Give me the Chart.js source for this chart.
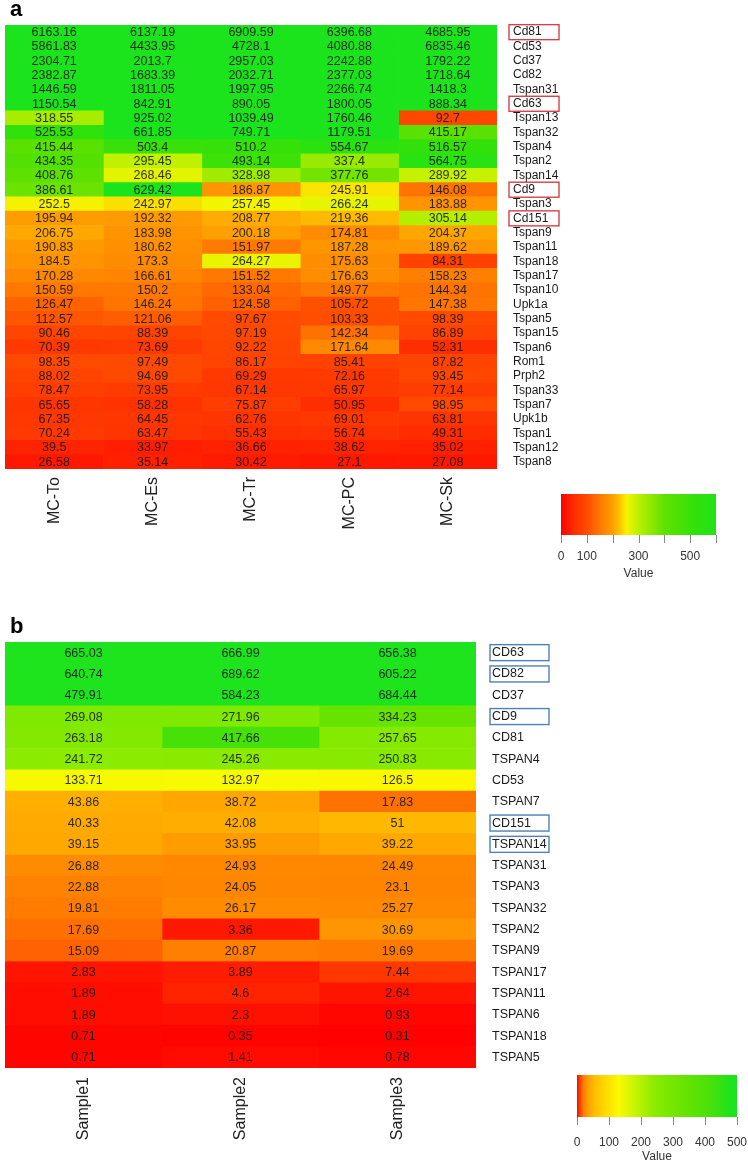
<!DOCTYPE html>
<html>
<head>
<meta charset="utf-8">
<script src="https://cdn.jsdelivr.net/npm/chart.js@4.4.1/dist/chart.umd.min.js"></script>
<style>
  body { margin: 0; background: #fff; }
  canvas { position: absolute; left: 0; }
  #heatA { top: 0; }
  #heatB { top: 600px; }
</style>
</head>
<body>
<canvas id="heatA" width="748" height="600"></canvas>
<canvas id="heatB" width="748" height="564"></canvas>
<script>
// ---- panel a ----
const genesA = ['Cd81', 'Cd53', 'Cd37', 'Cd82', 'Tspan31', 'Cd63', 'Tspan13', 'Tspan32', 'Tspan4', 'Tspan2',
  'Tspan14', 'Cd9', 'Tspan3', 'Cd151', 'Tspan9', 'Tspan11', 'Tspan18', 'Tspan17', 'Tspan10', 'Upk1a',
  'Tspan5', 'Tspan15', 'Tspan6', 'Rom1', 'Prph2', 'Tspan33', 'Tspan7', 'Upk1b', 'Tspan1', 'Tspan12', 'Tspan8'];
const samplesA = ['MC-To', 'MC-Es', 'MC-Tr', 'MC-PC', 'MC-Sk'];
const mcTo = [6163.16, 5861.83, 2304.71, 2382.87, 1446.59, 1150.54, 318.55, 525.53, 415.44, 434.35, 408.76, 386.61,
  252.5, 195.94, 206.75, 190.83, 184.5, 170.28, 150.59, 126.47, 112.57, 90.46, 70.39, 98.35, 88.02, 78.47, 65.65,
  67.35, 70.24, 39.5, 26.58];
const mcEs = [6137.19, 4433.95, 2013.7, 1683.39, 1811.05, 842.91, 925.02, 661.85, 503.4, 295.45, 268.46, 629.42,
  242.97, 192.32, 183.98, 180.62, 173.3, 166.61, 150.2, 146.24, 121.06, 88.39, 73.69, 97.49, 94.69, 73.95, 58.28,
  64.45, 63.47, 33.97, 35.14];
const mcTr = [6909.59, 4728.1, 2957.03, 2032.71, 1997.95, 890.05, 1039.49, 749.71, 510.2, 493.14, 328.98, 186.87,
  257.45, 208.77, 200.18, 151.97, 264.27, 151.52, 133.04, 124.58, 97.67, 97.19, 92.22, 86.17, 69.29, 67.14, 75.87,
  62.76, 55.43, 36.66, 30.42];
const mcPC = [6396.68, 4080.88, 2242.88, 2377.03, 2266.74, 1800.05, 1760.46, 1179.51, 554.67, 337.4, 377.76, 245.91,
  266.24, 219.36, 174.81, 187.28, 175.63, 176.63, 149.77, 105.72, 103.33, 142.34, 171.64, 85.41, 72.16, 65.97, 50.95,
  69.01, 56.74, 38.62, 27.1];
const mcSk = [4685.95, 6835.46, 1792.22, 1718.64, 1418.3, 888.34, 92.7, 415.17, 516.57, 564.75, 289.92, 146.08,
  183.88, 305.14, 204.37, 189.62, 84.31, 158.23, 144.34, 147.38, 98.39, 86.89, 52.31, 87.82, 93.45, 77.14, 98.95,
  63.81, 49.31, 35.02, 27.08];
const boxedA = ['Cd81', 'Cd63', 'Cd9', 'Cd151'];
const legendTicksA = [0, 100, 200, 300, 400, 500, 600];
const legendLabelsA = [0, 100, 300, 500];

// ---- panel b ----
const genesB = ['CD63', 'CD82', 'CD37', 'CD9', 'CD81', 'TSPAN4', 'CD53', 'TSPAN7', 'CD151', 'TSPAN14',
  'TSPAN31', 'TSPAN3', 'TSPAN32', 'TSPAN2', 'TSPAN9', 'TSPAN17', 'TSPAN11', 'TSPAN6', 'TSPAN18', 'TSPAN5'];
const samplesB = ['Sample1', 'Sample2', 'Sample3'];
const sample1 = [665.03, 640.74, 479.91, 269.08, 263.18, 241.72, 133.71, 43.86, 40.33, 39.15, 26.88, 22.88, 19.81,
  17.69, 15.09, 2.83, 1.89, 1.89, 0.71, 0.71];
const sample2 = [666.99, 689.62, 584.23, 271.96, 417.66, 245.26, 132.97, 38.72, 42.08, 33.95, 24.93, 24.05, 26.17,
  3.36, 20.87, 3.89, 4.6, 2.3, 0.35, 1.41];
const sample3 = [656.38, 605.22, 684.44, 334.23, 257.65, 250.83, 126.5, 17.83, 51, 39.22, 24.49, 23.1, 25.27,
  30.69, 19.69, 7.44, 2.64, 0.93, 0.31, 0.78];
const boxedB = ['CD63', 'CD82', 'CD9', 'CD151', 'TSPAN14'];
const legendTicksB = [0, 100, 200, 300, 400, 500];
const legendLabelsB = [0, 100, 200, 300, 400, 500];

// colour ramps [value, [r,g,b]]
const rampA = [[0, [255, 0, 0]], [50, [255, 45, 0]], [100, [255, 75, 0]], [150, [255, 120, 0]], [200, [255, 160, 0]],
  [230, [255, 200, 0]], [255, [245, 245, 0]], [300, [185, 240, 0]], [400, [95, 225, 0]], [520, [50, 225, 10]],
  [620, [28, 228, 28]]];
const rampB = [[0, [255, 0, 0]], [8, [255, 60, 0]], [20, [255, 125, 0]], [40, [255, 170, 0]], [60, [255, 195, 0]],
  [130, [250, 250, 0]], [240, [140, 235, 0]], [340, [100, 228, 0]], [420, [70, 225, 10]], [480, [30, 228, 30]]];

function rampColor(v, ramp) {
  if (v <= ramp[0][0]) return 'rgb(' + ramp[0][1].join(',') + ')';
  for (let i = 1; i < ramp.length; i++) {
    if (v <= ramp[i][0]) {
      const [v0, c0] = ramp[i - 1], [v1, c1] = ramp[i];
      const t = (v - v0) / (v1 - v0);
      return 'rgb(' + c0.map((c, k) => Math.round(c + (c1[k] - c) * t)).join(',') + ')';
    }
  }
  return 'rgb(' + ramp[ramp.length - 1][1].join(',') + ')';
}

const heatExtras = {
  id: 'heatExtras',
  afterDatasetsDraw(chart, args, o) {
    const ctx = chart.ctx;
    const xs = chart.scales.x, ys = chart.scales.y, area = chart.chartArea;
    ctx.save();
    // cell values
    ctx.font = o.cellFont;
    ctx.fillStyle = 'rgba(20,20,20,0.88)';
    ctx.textAlign = 'center';
    ctx.textBaseline = 'middle';
    chart.data.datasets.forEach((ds, di) => {
      chart.getDatasetMeta(di).data.forEach((bar, ri) => {
        const p = bar.getCenterPoint();
        ctx.fillText(String(ds.values[ri]), p.x, p.y + 0.5);
      });
    });
    // column names, rotated
    ctx.font = '16px "Liberation Sans", Arial, sans-serif';
    ctx.fillStyle = '#222';
    ctx.textAlign = 'right';
    o.columns.forEach((name, c) => {
      ctx.save();
      ctx.translate(xs.getPixelForValue(c + 0.5), area.bottom + o.colGap);
      ctx.rotate(-Math.PI / 2);
      ctx.fillText(name, 0, 0);
      ctx.restore();
    });
    // boxes round highlighted genes
    ctx.strokeStyle = o.boxColor;
    ctx.lineWidth = 1.4;
    o.boxed.forEach(g => {
      const y = ys.getPixelForValue(chart.data.labels.indexOf(g));
      ctx.strokeRect(o.box[0], y - o.box[2] / 2, o.box[1], o.box[2]);
    });
    // panel letter
    ctx.font = 'bold 22px "Liberation Sans", Arial, sans-serif';
    ctx.fillStyle = '#000';
    ctx.textAlign = 'left';
    ctx.textBaseline = 'alphabetic';
    ctx.fillText(o.letter[0], o.letter[1], o.letter[2]);
    // colour key
    const L = o.legend;
    const max = L.ticks[L.ticks.length - 1];
    const grad = ctx.createLinearGradient(L.x, 0, L.x + L.w, 0);
    o.ramp.forEach(([v]) => { if (v <= max) grad.addColorStop(v / max, rampColor(v, o.ramp)); });
    grad.addColorStop(1, rampColor(max, o.ramp));
    ctx.fillStyle = grad;
    ctx.fillRect(L.x, L.y, L.w, L.h);
    ctx.strokeStyle = '#888';
    ctx.lineWidth = 1;
    ctx.beginPath();
    L.ticks.forEach(t => {
      const x = Math.round(L.x + t / max * L.w) + 0.5;
      ctx.moveTo(x, L.y + L.h);
      ctx.lineTo(x, L.y + L.h + 8);
    });
    ctx.stroke();
    ctx.font = '12px "Liberation Sans", Arial, sans-serif';
    ctx.fillStyle = '#333';
    ctx.textAlign = 'center';
    ctx.textBaseline = 'middle';
    L.labels.forEach(t => ctx.fillText(String(t), L.x + t / max * L.w, L.labelY));
    ctx.fillText('Value', L.x + L.w / 2, L.titleY);
    ctx.restore();
  }
};

function makeHeatmap(id, genes, samples, series, ramp, fontSize, layout, extras) {
  const datasets = series.map((vals, c) => ({
    label: samples[c],
    values: vals,
    data: vals.map(() => [c, c + 1]),
    backgroundColor: vals.map(v => rampColor(v, ramp)),
    borderWidth: 0,
    grouped: false,
    barPercentage: 1,
    categoryPercentage: 1
  }));
  return new Chart(document.getElementById(id).getContext('2d'), {
    type: 'bar',
    data: { labels: genes, datasets: datasets },
    options: {
      indexAxis: 'y',
      responsive: false,
      animation: false,
      layout: { padding: layout.padding },
      scales: {
        x: { type: 'linear', min: 0, max: samples.length, display: false },
        y: {
          position: 'right',
          grid: { display: false, drawTicks: false },
          border: { display: false },
          ticks: {
            padding: layout.labelGap,
            color: '#1a1a1a',
            font: { family: '"Liberation Sans", Arial, sans-serif', size: fontSize },
            autoSkip: false
          },
          afterFit(scale) { scale.width = layout.axisWidth; }
        }
      },
      plugins: {
        legend: { display: false },
        tooltip: { enabled: false },
        heatExtras: Object.assign({ columns: samples, ramp: ramp }, extras)
      }
    },
    plugins: [heatExtras]
  });
}

makeHeatmap('heatA', genesA, samplesA, [mcTo, mcEs, mcTr, mcPC, mcSk], rampA, 12,
  { padding: { top: 25, left: 5, bottom: 131, right: 0 }, axisWidth: 251, labelGap: 16 },
  {
    cellFont: '12.5px "Liberation Sans", Arial, sans-serif',
    colGap: 8,
    boxed: boxedA, box: [509, 50, 15], boxColor: '#d4404c',
    letter: ['a', 10, 16],
    legend: { x: 561, y: 494, w: 155, h: 41, ticks: legendTicksA, labels: legendLabelsA, labelY: 557, titleY: 574 }
  });

makeHeatmap('heatB', genesB, samplesB, [sample1, sample2, sample3], rampB, 12.5,
  { padding: { top: 42, left: 5, bottom: 96, right: 0 }, axisWidth: 272, labelGap: 16 },
  {
    cellFont: '12.5px "Liberation Sans", Arial, sans-serif',
    colGap: 9,
    boxed: boxedB, box: [490, 59, 16], boxColor: '#4f81b4',
    letter: ['b', 10, 33],
    legend: { x: 577, y: 475, w: 160, h: 42, ticks: legendTicksB, labels: legendLabelsB, labelY: 543, titleY: 557 }
  });
</script>
</body>
</html>
